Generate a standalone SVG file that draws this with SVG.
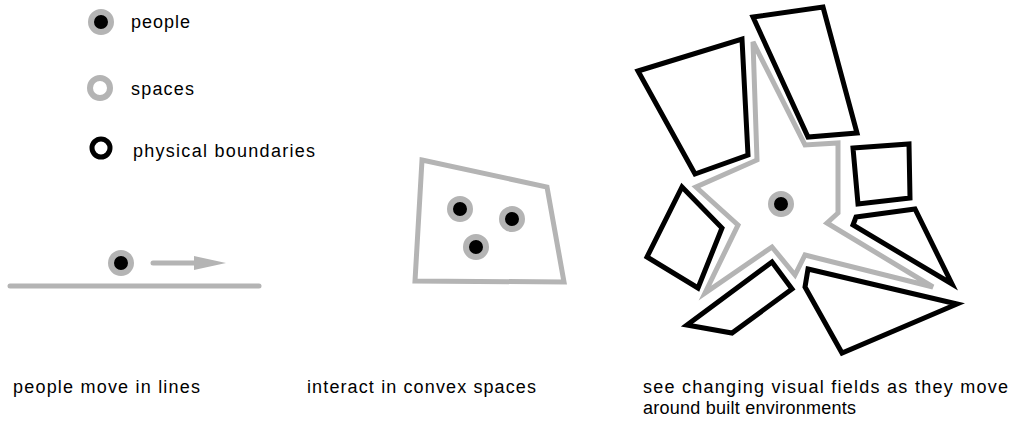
<svg xmlns="http://www.w3.org/2000/svg" width="1014" height="427" viewBox="0 0 1014 427">
<style>
  text { font-family: "Liberation Sans", Arial, sans-serif; font-size: 18px; fill: #000; }
  .grey { fill: none; stroke: #b4b4b4; stroke-width: 5; stroke-linejoin: miter; }
  .bound { fill: none; stroke: #000; stroke-width: 5; stroke-linejoin: miter; }
  .person-ring { fill: #000; stroke: #b4b4b4; stroke-width: 6; }
</style>
<defs>
  <g id="person">
    <circle r="10" class="person-ring"/>
  </g>
  <marker id="arrow" viewBox="0 0 10 10" refX="0" refY="5" markerWidth="32" markerHeight="14" markerUnits="userSpaceOnUse" preserveAspectRatio="none" orient="auto">
    <path d="M0,0 L10,5 L0,10 Z" fill="#b4b4b4"/>
  </marker>
</defs>

<g id="legend">
  <g id="legend-people">
    <use href="#person" x="101" y="22"/>
    <text x="131" y="28" textLength="59" lengthAdjust="spacing">people</text>
  </g>
  <g id="legend-spaces">
    <circle cx="100" cy="88" r="10" fill="#fff" stroke="#b4b4b4" stroke-width="6"/>
    <text x="131" y="95" textLength="63" lengthAdjust="spacing">spaces</text>
  </g>
  <g id="legend-boundaries">
    <circle cx="101" cy="148" r="9" fill="#fff" stroke="#000" stroke-width="5"/>
    <text x="133" y="157" textLength="182" lengthAdjust="spacing">physical boundaries</text>
  </g>
</g>

<g id="panel-lines">
  <line x1="10" y1="286" x2="259" y2="286" stroke="#b4b4b4" stroke-width="5" stroke-linecap="round"/>
  <use href="#person" x="121" y="263"/>
  <line x1="153" y1="263" x2="194" y2="263" stroke="#b4b4b4" stroke-width="5" stroke-linecap="round" marker-end="url(#arrow)"/>
  <text x="13" y="393" textLength="187" lengthAdjust="spacing">people move in lines</text>
</g>

<g id="panel-convex">
  <polygon class="grey" points="422,160 547,187 564,282 415,281"/>
  <use href="#person" x="460" y="209"/>
  <use href="#person" x="512" y="219"/>
  <use href="#person" x="476" y="247"/>
  <text x="307" y="393" textLength="229" lengthAdjust="spacing">interact in convex spaces</text>
</g>

<g id="panel-visual">
  <polygon class="bound" points="638,71 742,39 748,155 695,174"/>
  <polygon class="bound" points="753,17 823,7 857,133 808,137"/>
  <polygon class="bound" points="853,148 909,144 910,198 858,204"/>
  <polygon class="bound" points="856,217 915,209 952,284 853,225"/>
  <polygon class="bound" points="808,269 957,304 842,353 805,287"/>
  <polygon class="bound" points="687,325 772,262 792,289 732,333"/>
  <polygon class="bound" points="682,187 722,228 698,288 647,257"/>
  <polygon class="grey" points="753,42 805,145 838,143 838,213 827,223 933,287 805,255 795,275 772,247 705,293 738,225 696,187 757,160"/>
  <use href="#person" x="781" y="204"/>
  <text x="643" y="393" textLength="365" lengthAdjust="spacing">see changing visual fields as they move</text>
  <text x="643" y="414" textLength="213" lengthAdjust="spacing">around built environments</text>
</g>
</svg>
